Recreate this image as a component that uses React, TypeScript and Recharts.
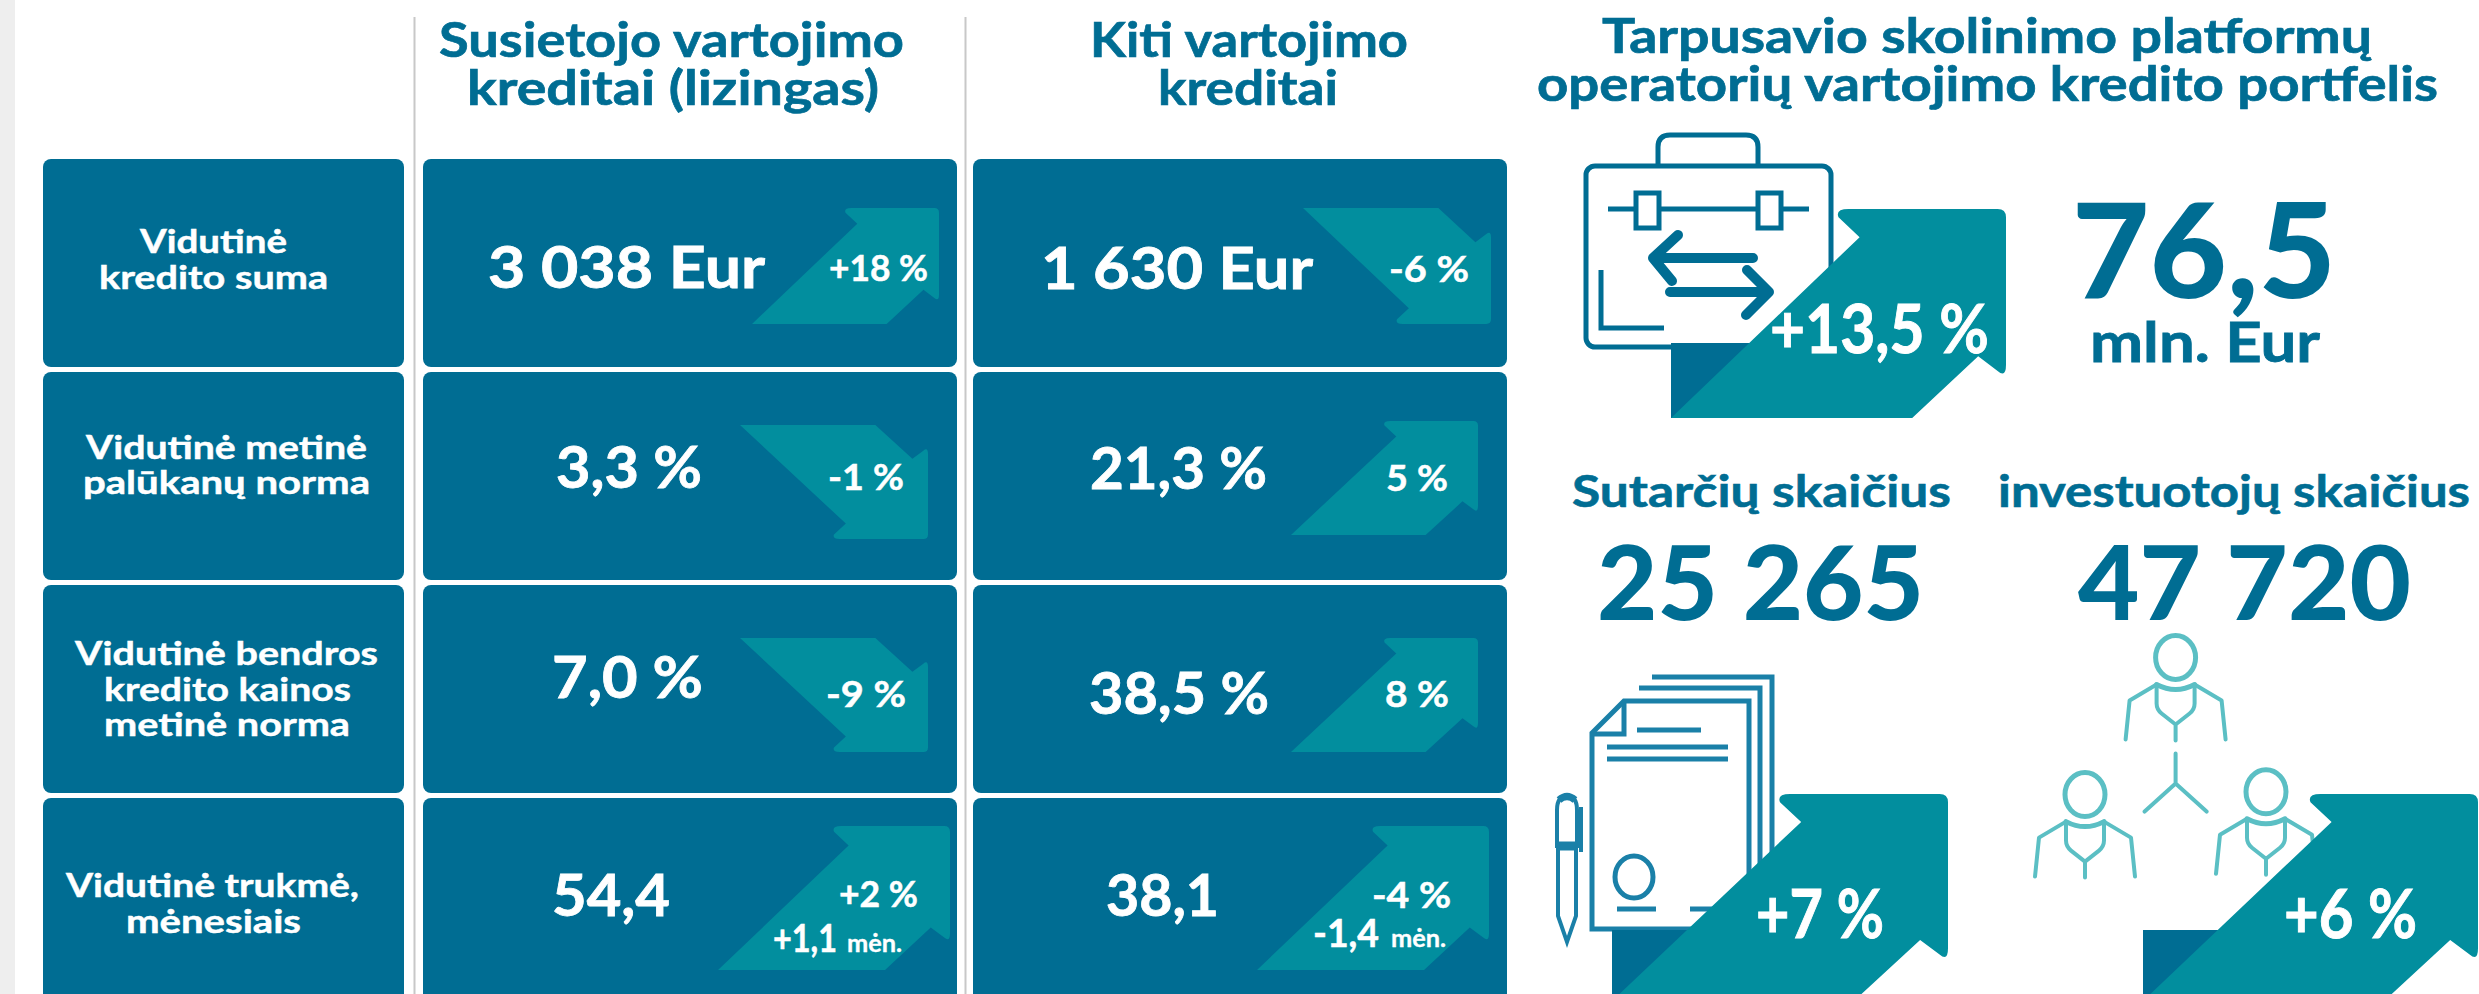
import React from 'react';
import { ScatterChart, Scatter, XAxis, YAxis, ReferenceLine, ReferenceArea } from 'recharts';

// chart content
const columnTitles = [['Susietojo vartojimo', 'kreditai (lizingas)'], ['Kiti vartojimo', 'kreditai']];
const rowLabels = [
  ['Vidutinė', 'kredito suma'],
  ['Vidutinė metinė', 'palūkanų norma'],
  ['Vidutinė bendros', 'kredito kainos', 'metinė norma'],
  ['Vidutinė trukmė,', 'mėnesiais'],
];
const leaseValues = ['3 038 Eur', '3,3 %', '7,0 %', '54,4'];
const leaseChanges = ['+18 %', '-1 %', '-9 %', '+2 %'];
const leaseArrowUp = [true, false, false, true];
const otherValues = ['1 630 Eur', '21,3 %', '38,5 %', '38,1'];
const otherChanges = ['-6 %', '5 %', '8 %', '-4 %'];
const otherArrowUp = [false, true, true, true];
const termChanges = ['+1,1', '-1,4'];
const termUnit = 'mėn.';
const platformTitle = ['Tarpusavio skolinimo platformų', 'operatorių vartojimo kredito portfelis'];
const portfolioValue = '76,5';
const portfolioUnit = 'mln. Eur';
const portfolioChange = '+13,5 %';
const contractsTitle = 'Sutarčių skaičius';
const contractsValue = '25 265';
const contractsChange = '+7 %';
const investorsTitle = 'investuotojų skaičius';
const investorsValue = '47 720';
const investorsChange = '+6 %';

// layout, in page pixels: [left, right, baseline]
type Box = [number, number, number];
const rowTop = [159, 372, 585, 798];
const tileColumns = [[43, 361], [423, 534], [973, 534]];
const tileHeight = 208;
const rowLabelBoxes: Box[][] = [
  [[140, 287, 253], [99, 328, 289]],
  [[86, 367, 459], [83, 370, 494]],
  [[75, 378, 665], [104, 351, 701], [104, 350, 736]],
  [[66, 359, 897], [126, 301, 933]],
];
const leaseValueBoxes: Box[] = [[488, 765, 288], [556, 702, 488], [552, 703, 698], [552, 670, 916]];
const otherValueBoxes: Box[] = [[1041, 1313, 289], [1090, 1267, 489], [1089, 1269, 714], [1106, 1219, 916]];
const leaseChangeBoxes: Box[] = [[829, 928, 281], [828, 904, 490], [826, 906, 707], [839, 918, 907]];
const otherChangeBoxes: Box[] = [[1389, 1469, 282], [1386, 1448, 491], [1385, 1449, 707], [1372, 1451, 908]];
const termChangeBoxes: Box[] = [[773, 837, 952], [1313, 1379, 947]];
const termUnitBoxes: Box[] = [[847, 902, 952], [1391, 1446, 947]];
const leaseArrowBoxes = [[752, 208, 187, 116], [740, 425, 188, 114], [740, 638, 188, 114], [718, 826, 232, 144]];
const otherArrowBoxes = [[1303, 208, 188, 116], [1291, 421, 187, 114], [1291, 638, 187, 114], [1257, 826, 232, 144]];
const bigArrowBoxes = [[1671, 209, 335, 209], [1612, 794, 336, 207], [2143, 794, 335, 207]];
const shadowBoxes = [[1671, 343, 79, 75], [1612, 930, 79, 71], [2143, 930, 79, 71]];

const BLUE = '#006d93';
const TEAL = '#028e9e';
const DOC = '#1a80a8';
const PEOPLE = '#5bbfc4';
const FONT = 'Lato, sans-serif';

const textItem = (text: string, box: Box, size: number, fill: string, weight = 700) => ({
  x: box[0],
  y: box[2],
  text,
  span: box[1] - box[0],
  size,
  fill,
  weight,
});

const tiles = rowTop.flatMap((y) => tileColumns.map(([x, w]) => ({ x, y, w, h: tileHeight })));
const arrows = [...leaseArrowBoxes.map((b, i) => [b, leaseArrowUp[i]]), ...otherArrowBoxes.map((b, i) => [b, otherArrowUp[i]])]
  .concat(bigArrowBoxes.map((b) => [b, true]))
  .map(([b, up]: any) => ({ x: b[0], y: b[1], w: b[2], h: b[3], up }));
const shadows = shadowBoxes.map((b) => ({ x: b[0], y: b[1], w: b[2], h: b[3] }));
const icons = [
  { x: 1584, y: 133, kind: 'case' },
  { x: 1556, y: 676, kind: 'docs' },
  { x: 2175.6, y: 657.5, kind: 'person' },
  { x: 2085, y: 794.6, kind: 'person' },
  { x: 2266, y: 791.8, kind: 'person' },
  { x: 2175.6, y: 753.6, kind: 'fork' },
];

const texts = [
  textItem(columnTitles[0][0], [439, 904, 57], 48, BLUE),
  textItem(columnTitles[0][1], [467, 879, 105], 48, BLUE),
  textItem(columnTitles[1][0], [1090, 1408, 57], 48, BLUE),
  textItem(columnTitles[1][1], [1158, 1338, 105], 48, BLUE),
  textItem(platformTitle[0], [1602, 2372, 53], 48, BLUE),
  textItem(platformTitle[1], [1537, 2438, 101], 48, BLUE),
  ...rowLabels.flatMap((lines, r) => lines.map((line, i) => textItem(line, rowLabelBoxes[r][i], 33, '#fff'))),
  ...leaseValues.map((v, i) => textItem(v, leaseValueBoxes[i], 58, '#fff')),
  ...otherValues.map((v, i) => textItem(v, otherValueBoxes[i], 58, '#fff')),
  ...leaseChanges.map((v, i) => textItem(v, leaseChangeBoxes[i], 36, '#fff')),
  ...otherChanges.map((v, i) => textItem(v, otherChangeBoxes[i], 36, '#fff')),
  ...termChanges.map((v, i) => textItem(v, termChangeBoxes[i], 38, '#fff')),
  ...termChanges.map((_, i) => textItem(termUnit, termUnitBoxes[i], 25, '#fff')),
  textItem(portfolioChange, [1770, 1989, 353], 66, '#fff'),
  textItem(portfolioValue, [2072, 2336, 298], 132, BLUE, 900),
  textItem(portfolioUnit, [2090, 2320, 362], 56, BLUE),
  textItem(contractsTitle, [1572, 1951, 507], 44, BLUE),
  textItem(investorsTitle, [1998, 2470, 507], 44, BLUE),
  textItem(contractsValue, [1597, 1924, 620], 103, BLUE, 900),
  textItem(investorsValue, [2078, 2411, 620], 103, BLUE, 900),
  textItem(contractsChange, [1756, 1884, 938], 66, '#fff'),
  textItem(investorsChange, [2284, 2417, 938], 66, '#fff'),
];

const TileShape = ({ cx, cy, payload }: any) => (
  <rect x={cx} y={cy} width={payload.w} height={payload.h} rx={8} fill={BLUE} />
);

const ShadowShape = ({ cx, cy, payload }: any) => (
  <rect x={cx} y={cy} width={payload.w} height={payload.h} fill={BLUE} />
);

// the arrow outline in a 0..1 box, mirrored vertically for the downward ones
const ArrowShape = ({ cx, cy, payload }: any) => {
  const { w, h, up } = payload;
  const px = (a: number) => cx + a * w;
  const py = (b: number) => cy + (up ? b : 1 - b) * h;
  const p = (a: number, b: number) => `${px(a)} ${py(b)}`;
  const d = `M${p(0, 1)} L${p(0.563, 0.135)} L${p(0.5, 0.04)} Q${p(0.49, 0)} ${p(0.53, 0)} L${p(0.975, 0)} Q${p(1, 0)} ${p(1, 0.04)} L${p(1, 0.745)} Q${p(1, 0.81)} ${p(0.975, 0.775)} L${p(0.917, 0.705)} L${p(0.72, 1)} Z`;
  return <path d={d} fill={TEAL} />;
};

// a thin outline thickens Lato towards the heavier look of the reference
const TextShape = ({ cx, cy, payload }: any) => (
  <text
    x={cx}
    y={cy}
    textLength={payload.span}
    lengthAdjust="spacingAndGlyphs"
    fontFamily={FONT}
    fontSize={payload.size}
    fontWeight={payload.weight}
    fill={payload.fill}
    stroke={payload.fill}
    strokeWidth={payload.weight === 900 ? 0 : payload.size * 0.014}
  >
    {payload.text}
  </text>
);

const CaseIcon = ({ x, y }: { x: number; y: number }) => (
  <g transform={`translate(${x} ${y})`} fill="none" stroke={BLUE} strokeWidth={5}>
    <path d="M74 31 V14 Q74 2 86 2 H162 Q174 2 174 14 V31" />
    <rect x={2} y={33} width={245} height={181} rx={9} />
    <path d="M24 76 H225" />
    <rect x={52} y={60} width={23} height={35} fill="#fff" />
    <rect x={174} y={60} width={23} height={35} fill="#fff" />
    <path d="M17 137 V195 H80" />
    <g strokeWidth={10} strokeLinecap="round" strokeLinejoin="round">
      <path d="M94 102 L69 125 L88 148 M70 125 H169" />
      <path d="M86 159 H184 M163 137 L185 159 L162 182" />
    </g>
  </g>
);

const DocsIcon = ({ x, y }: { x: number; y: number }) => (
  <g transform={`translate(${x} ${y})`} fill="none" stroke={DOC} strokeWidth={5}>
    <path d="M96 1 H216 V180" />
    <path d="M83 12 H204 V190" />
    <path d="M68 25 H193 V253 H36 V57 Z" fill="#fff" />
    <path d="M68 25 V58 H36" />
    <path d="M81 54 H145 M51 71 H172 M51 83 H172 M61 233 H100 M134 233 H159" />
    <ellipse cx={78} cy={201} rx={19} ry={21} />
    <g strokeWidth={4}>
      <path d="M2 170 V240 L11 266 L20 240 V170" fill="#fff" />
      <path d="M1 170 V134 Q1 120 11 120 Q21 120 21 134 V170 Z" />
      <path d="M25 131 V176" />
      <path d="M1 170 H21" strokeWidth={9} />
      <path d="M3 124 Q11 117 19 124" strokeWidth={7} />
    </g>
  </g>
);

const PersonIcon = ({ x, y }: { x: number; y: number }) => (
  <g transform={`translate(${x} ${y})`} fill="none" stroke={PEOPLE} strokeWidth={4} strokeLinecap="round" strokeLinejoin="round">
    <ellipse cx={0} cy={0} rx={20} ry={22} strokeWidth={5} />
    <path d="M-19 27 Q0 37 19 27" strokeWidth={5} />
    <path d="M-19 27 L-46 43 L-50 82 M19 27 L46 43 L50 82" />
    <path d="M-19 28 V46 Q-19 52 -14 56 L0 67 L14 56 Q19 52 19 46 V28 M0 67 V83" />
  </g>
);

const ForkIcon = ({ x, y }: { x: number; y: number }) => (
  <path
    d={`M${x} ${y} V${y + 30} L${x - 31} ${y + 58} M${x} ${y + 30} L${x + 31} ${y + 58}`}
    fill="none"
    stroke={PEOPLE}
    strokeWidth={4}
    strokeLinecap="round"
    strokeLinejoin="round"
  />
);

const IconShape = ({ cx, cy, payload }: any) => {
  if (payload.kind === 'case') return <CaseIcon x={cx} y={cy} />;
  if (payload.kind === 'docs') return <DocsIcon x={cx} y={cy} />;
  if (payload.kind === 'person') return <PersonIcon x={cx} y={cy} />;
  return <ForkIcon x={cx} y={cy} />;
};

export default function App() {
  return (
    <div style={{ position: 'absolute', left: 0, top: 0, width: 2479, height: 994, overflow: 'hidden', background: '#fff' }}>
      <style>{'html,body{margin:0;overflow:hidden}'}</style>
      <ScatterChart width={2479} height={994} margin={{ top: 0, right: 0, bottom: 0, left: 0 }}>
        <XAxis type="number" dataKey="x" domain={[0, 2479]} hide />
        <YAxis type="number" dataKey="y" domain={[0, 994]} reversed hide />
        <ReferenceArea x1={0} x2={15} y1={0} y2={994} fill="#eeeeee" fillOpacity={1} stroke="none" />
        <ReferenceLine segment={[{ x: 414.5, y: 17 }, { x: 414.5, y: 994 }]} stroke="#c8c8c8" strokeWidth={2} />
        <ReferenceLine segment={[{ x: 965.5, y: 17 }, { x: 965.5, y: 994 }]} stroke="#c8c8c8" strokeWidth={2} />
        <Scatter data={tiles} shape={TileShape} isAnimationActive={false} />
        <Scatter data={icons} shape={IconShape} isAnimationActive={false} />
        <Scatter data={shadows} shape={ShadowShape} isAnimationActive={false} />
        <Scatter data={arrows} shape={ArrowShape} isAnimationActive={false} />
        <Scatter data={texts} shape={TextShape} isAnimationActive={false} />
      </ScatterChart>
    </div>
  );
}
